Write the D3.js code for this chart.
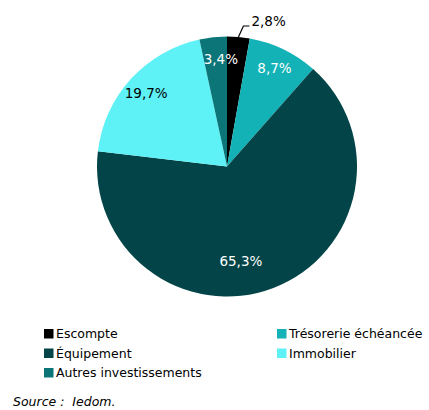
<html>
<head>
<meta charset="utf-8">
<script src="https://d3js.org/d3.v7.min.js"></script>
<style>
body {
	margin: 0;
	background: #fff;
}
text {
	font-family: "DejaVu Sans", Verdana, sans-serif;
}
</style>
</head>
<body>

<svg id="chart" width="429" height="410"></svg>

<script>

// parts of the loans, in %
var categories = ["Escompte", "Trésorerie échéancée", "Équipement", "Immobilier", "Autres investissements"]
var values     = [2.8, 8.7, 65.3, 19.7, 3.4]
var labels     = ["2,8%", "8,7%", "65,3%", "19,7%", "3,4%"]
var colours    = ["#000000", "#12b2b6", "#024447", "#5ef2f7", "#0c7577"]
var labelInk   = ["#000", "#fff", "#fff", "#000", "#fff"]
// legend order as in the picture (two columns)
var legendOrder = ["Escompte", "Trésorerie échéancée", "Équipement", "Immobilier", "Autres investissements"]

var data = categories.map((c, i) => ({name: c, value: values[i], label: labels[i], fill: colours[i], ink: labelInk[i]}))

var svg = d3.select("#chart")
var cx = 227, cy = 166.5, radius = 130

var pie = d3.pie()
	.sort(null)
	.value(d => d.value)

var arc = d3.arc()
	.innerRadius(0)
	.outerRadius(radius)

var g = svg.append("g")
	.attr("transform", `translate(${cx},${cy})`)

var arcs = pie(data)

g.selectAll("path")
	.data(arcs)
	.enter().append("path")
		.attr("d", arc)
		.attr("fill", d => d.data.fill)

// label position : inside for the big slices, outside with a leader for the small black one
function labelPos(d) {
	var a = (d.startAngle + d.endAngle) / 2
	var r = radius * 0.84
	if (d.data.value > 50) { a += 0.22; r = radius * 0.74 }
	if (d.data.value < 5) { a += 0.05; r = radius * 0.83 }
	return [Math.sin(a) * r, -Math.cos(a) * r]
}

var inside = arcs.filter(d => d.data.value > 3)
var outside = arcs.filter(d => d.data.value <= 3)

g.selectAll("text.inlabel")
	.data(inside)
	.enter().append("text")
		.attr("class", "inlabel")
		.attr("x", d => labelPos(d)[0])
		.attr("y", d => labelPos(d)[1])
		.attr("dy", "0.35em")
		.attr("text-anchor", "middle")
		.attr("fill", d => d.data.ink)
		.style("font-size", "13.5px")
		.text(d => d.data.label)

outside.forEach(function(d) {
	var a = (d.startAngle + d.endAngle) / 2
	var p0 = [Math.sin(a) * radius, -Math.cos(a) * radius]
	var p1 = [p0[0] + 5, p0[1] - 11]
	var p2 = [p1[0] + 6, p1[1]]
	g.append("polyline")
		.attr("points", [p0, p1, p2].map(p => p.join(",")).join(" "))
		.attr("fill", "none")
		.attr("stroke", "#000")
		.attr("stroke-width", 1.2)
	g.append("text")
		.attr("x", p2[0] + 2)
		.attr("y", p2[1] - 5)
		.attr("dy", "0.35em")
		.attr("fill", "#000")
		.style("font-size", "13.5px")
		.text(d.data.label)
})

// legend
var legend = svg.append("g")
	.attr("transform", "translate(44,329)")

var item = legend.selectAll("g")
	.data(legendOrder.map(n => data.find(d => d.name == n)))
	.enter().append("g")
		.attr("transform", (d, i) => `translate(${(i % 2) * 233},${Math.floor(i / 2) * 19.5})`)

item.append("rect")
	.attr("width", 9.5)
	.attr("height", 9.5)
	.attr("fill", d => d.fill)

item.append("text")
	.attr("x", 12)
	.attr("y", 5)
	.attr("dy", "0.35em")
	.style("font-size", "12.5px")
	.text(d => d.name)

svg.append("text")
	.attr("x", 13)
	.attr("y", 406)
	.style("font-size", "12.5px")
	.style("font-style", "italic")
	.attr("xml:space", "preserve")
	.text("Source :  Iedom.")

</script>

</body>
</html>
